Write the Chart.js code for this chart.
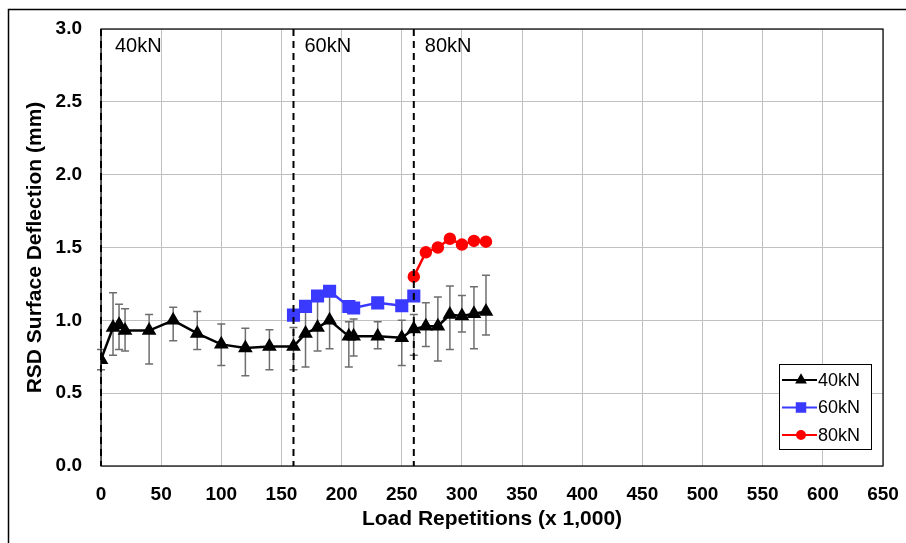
<!DOCTYPE html>
<html lang="en">
  <head>
    <meta charset="UTF-8" />
    <title>RSD Surface Deflection</title>
    <script src="https://cdn.jsdelivr.net/npm/chart.js"></script>
    <style>
      html, body { margin: 0; padding: 0; background: #fff; }
      #wrap { width: 906px; height: 543px; }
    </style>
  </head>
  <body>
    <div id="wrap"><canvas id="rsdChart" width="906" height="543"></canvas></div>

    <script>
      // load repetitions (x 1,000)
      const reps40 = [0, 10, 15, 20, 40, 60, 80, 100, 120, 140, 160, 170, 180, 190, 206, 210, 230, 250, 260, 270, 280, 290, 300, 310, 320];
      const defl40 = [0.73, 0.95, 0.97, 0.93, 0.93, 1.0, 0.91, 0.835, 0.81, 0.82, 0.82, 0.91, 0.95, 1.0, 0.89, 0.89, 0.89, 0.88, 0.94, 0.96, 0.96, 1.04, 1.03, 1.045, 1.06];
      const err40Low = [0.66, 0.76, 0.8, 0.79, 0.7, 0.86, 0.8, 0.69, 0.62, 0.66, 0.66, 0.68, 0.79, 0.805, 0.68, 0.755, 0.805, 0.69, 0.76, 0.82, 0.72, 0.8, 0.92, 0.805, 0.9];
      const err40High = [0.8, 1.19, 1.11, 1.08, 1.04, 1.09, 1.06, 0.975, 0.945, 0.935, 0.95, 1.07, 1.14, 1.2, 0.99, 1.01, 0.99, 1.0, 1.04, 1.12, 1.16, 1.235, 1.17, 1.23, 1.31];

      const reps60 = [160, 170, 180, 190, 206, 210, 230, 250, 260];
      const defl60 = [1.036, 1.096, 1.167, 1.2, 1.095, 1.085, 1.12, 1.1, 1.167];

      const reps80 = [260, 270, 280, 290, 300, 310, 320];
      const defl80 = [1.3, 1.467, 1.5, 1.56, 1.52, 1.545, 1.54];

      const phaseStarts = [0, 160, 260];
      const phaseLabels = ["40kN", "60kN", "80kN"];

      const xTicks = [0, 50, 100, 150, 200, 250, 300, 350, 400, 450, 500, 550, 600, 650];
      const yTicks = [0, 0.5, 1.0, 1.5, 2.0, 2.5, 3.0];

      const FONT = "'Liberation Sans', Arial, sans-serif";

      const toPoints = (xs, ys) => xs.map((x, i) => ({ x: x, y: ys[i] }));

      // error bars behind the markers
      const errorBars = {
        id: "errorBars",
        beforeDatasetsDraw(chart) {
          const { ctx, scales } = chart;
          ctx.save();
          ctx.strokeStyle = "#6e6e6e";
          ctx.lineWidth = 1.5;
          reps40.forEach((x, i) => {
            const px = scales.x.getPixelForValue(x);
            const top = scales.y.getPixelForValue(err40High[i]);
            const bot = scales.y.getPixelForValue(err40Low[i]);
            ctx.beginPath();
            ctx.moveTo(px, top);
            ctx.lineTo(px, bot);
            ctx.moveTo(px - 4, top);
            ctx.lineTo(px + 4, top);
            ctx.moveTo(px - 4, bot);
            ctx.lineTo(px + 4, bot);
            ctx.stroke();
          });
          ctx.restore();
        },
      };

      // frames, load phase markers, legend
      const decorations = {
        id: "decorations",
        beforeDraw(chart) {
          const { ctx } = chart;
          ctx.save();
          ctx.strokeStyle = "#000";
          ctx.lineWidth = 1.5;
          ctx.beginPath();
          ctx.moveTo(8.5, 560);
          ctx.lineTo(8.5, 9.5);
          ctx.lineTo(920, 9.5);
          ctx.stroke();
          ctx.restore();
        },
        afterDatasetsDraw(chart) {
          const { ctx, chartArea: a, scales } = chart;
          ctx.save();
          // plot border
          ctx.strokeStyle = "#000";
          ctx.lineWidth = 1.2;
          ctx.strokeRect(a.left, a.top, a.right - a.left, a.bottom - a.top);

          // dashed phase lines and labels
          ctx.lineWidth = 2;
          ctx.setLineDash([7, 5]);
          ctx.font = "20px " + FONT;
          ctx.fillStyle = "#000";
          ctx.textBaseline = "middle";
          phaseStarts.forEach((x, i) => {
            const px = scales.x.getPixelForValue(x);
            ctx.beginPath();
            ctx.moveTo(px, a.top);
            ctx.lineTo(px, a.bottom);
            ctx.stroke();
            ctx.fillText(phaseLabels[i], px + (i === 0 ? 14 : 11), a.top + 17);
          });
          ctx.setLineDash([]);

          // legend box
          const lx = 779, ly = 364, lw = 92, lh = 85;
          ctx.fillStyle = "#fff";
          ctx.fillRect(lx, ly, lw, lh);
          ctx.strokeStyle = "#000";
          ctx.lineWidth = 1;
          ctx.strokeRect(lx + 0.5, ly + 0.5, lw, lh);
          ctx.font = "18px " + FONT;
          chart.data.datasets.forEach((ds, i) => {
            const yy = ly + 16 + i * 27.5;
            ctx.strokeStyle = ds.borderColor;
            ctx.lineWidth = 2;
            ctx.beginPath();
            ctx.moveTo(lx + 3, yy);
            ctx.lineTo(lx + 38, yy);
            ctx.stroke();
            Chart.helpers.drawPoint(ctx, {
              pointStyle: ds.pointStyle,
              radius: ds.pointRadius * 0.8,
              borderWidth: 1,
            }, lx + 22, yy);
            ctx.fillStyle = ds.pointBackgroundColor;
            ctx.fill();
            ctx.fillStyle = "#000";
            ctx.fillText(ds.label, lx + 39, yy + 1);
          });
          ctx.restore();
        },
      };

      new Chart(document.getElementById("rsdChart"), {
        type: "scatter",
        data: {
          datasets: [
            {
              label: "40kN",
              data: toPoints(reps40, defl40),
              showLine: true,
              borderColor: "#000",
              borderWidth: 2.5,
              pointStyle: "triangle",
              pointRadius: 6,
              pointBackgroundColor: "#000",
              pointBorderColor: "#000",
            },
            {
              label: "60kN",
              data: toPoints(reps60, defl60),
              showLine: true,
              borderColor: "#3a3aff",
              borderWidth: 2.5,
              pointStyle: "rect",
              pointRadius: 7.5,
              pointBackgroundColor: "#3a3aff",
              pointBorderColor: "#3a3aff",
            },
            {
              label: "80kN",
              data: toPoints(reps80, defl80),
              showLine: true,
              borderColor: "#ff0000",
              borderWidth: 2.5,
              pointStyle: "circle",
              pointRadius: 5,
              pointBackgroundColor: "#ff0000",
              pointBorderColor: "#ff0000",
            },
          ],
        },
        options: {
          responsive: false,
          animation: false,
          layout: { padding: { left: 0, top: 29, right: 23, bottom: 0 } },
          plugins: {
            legend: { display: false },
            tooltip: { enabled: false },
          },
          scales: {
            x: {
              type: "linear",
              min: 0,
              max: 650,
              afterFit: (s) => {
                s.height = 77;
                s.paddingLeft = 0;
                s.paddingRight = 0;
              },
              afterBuildTicks: (s) => { s.ticks = xTicks.map((v) => ({ value: v })); },
              grid: { color: "#c0c0c0", lineWidth: 1, drawTicks: false },
              border: { display: false },
              ticks: {
                padding: 17,
                color: "#000",
                font: { family: FONT, size: 19, weight: "bold" },
              },
              title: {
                display: true,
                text: "Load Repetitions (x 1,000)",
                color: "#000",
                font: { family: FONT, size: 21, weight: "bold" },
                padding: { top: 4, bottom: 11 },
              },
            },
            y: {
              min: 0,
              max: 3,
              afterFit: (s) => {
                s.width = 101;
                s.paddingTop = 0;
                s.paddingBottom = 0;
              },
              afterBuildTicks: (s) => { s.ticks = yTicks.map((v) => ({ value: v })); },
              grid: { color: "#c0c0c0", lineWidth: 1, drawTicks: false },
              border: { display: false },
              ticks: {
                padding: 19,
                color: "#000",
                font: { family: FONT, size: 19, weight: "bold" },
                callback: (v) => Number(v).toFixed(1),
              },
              title: {
                display: true,
                text: "RSD Surface Deflection (mm)",
                color: "#000",
                font: { family: FONT, size: 21, weight: "bold" },
                padding: { top: 23, bottom: 4 },
              },
            },
          },
        },
        plugins: [errorBars, decorations],
      });
    </script>
  </body>
</html>
